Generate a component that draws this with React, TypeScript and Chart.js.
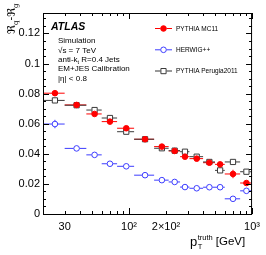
import React, { useEffect, useRef } from "react";
import { Chart, registerables } from "chart.js";
Chart.register(...registerables);

// ---- data ----
const binLow = [20, 30, 45, 60, 80, 110, 160, 210, 260, 310, 400, 500, 600, 800];
const binHigh = [30, 45, 60, 80, 110, 160, 210, 260, 310, 400, 500, 600, 800, 1000];
const binCenter = [25, 37.5, 52.5, 70, 95, 135, 185, 235, 285, 355, 450, 550, 700, 900];

const pythiaMC11 = [0.0803, 0.0725, 0.0665, 0.0614, 0.057, 0.0497, 0.0448, 0.0419, 0.0381, 0.0368, 0.0341, 0.033, 0.0266, 0.0206];
const pythiaMC11Err = [0.001, 0.0015, 0.001, 0.001, 0.001, 0.001, 0.001, 0.001, 0.0012, 0.001, 0.001, 0.0012, 0.0028, 0.0012];

const herwig = [0.0598, 0.0436, 0.0393, 0.0334, 0.0317, 0.0258, 0.0225, 0.0213, 0.0179, 0.0171, 0.0178, 0.0178, 0.0101, 0.0154];
const herwigErr = [0.0028, 0.002, 0.001, 0.001, 0.001, 0.001, 0.001, 0.001, 0.001, 0.001, 0.001, 0.001, 0.001, 0.001];

const perugia = [0.0755, 0.0723, 0.0691, 0.0638, 0.0547, 0.0497, 0.0437, 0.0421, 0.0414, 0.0381, 0.0346, 0.029, 0.0346, 0.0281];
const perugiaErr = [0.001, 0.001, 0.001, 0.001, 0.001, 0.001, 0.001, 0.001, 0.001, 0.001, 0.001, 0.0012, 0.0012, 0.0015];

const xTickValues = [30, 100, 200, 1000];
const xTickLabels = ["30", "10\u00B2", "2\u00D710\u00B2", "10\u00B3"];
const yTickValues = [0, 0.02, 0.04, 0.06, 0.08, 0.1, 0.12];
const yTickLabels = ["0", "0.02", "0.04", "0.06", "0.08", "0.1", "0.12"];

const seriesNames = ["PYTHIA MC11", "HERWIG++", "PYTHIA Perugia2011"];
const RED = "#ff0000";
const BLUE = "#3c3cff";
const DARK = "#3a3a3a";

const X_MIN = 20;
const X_MAX = 1000;
const Y_MIN = 0;
const Y_MAX = 0.1336;

const FONT = '"Liberation Sans", Arial, "DejaVu Sans", sans-serif';

function drawMarker(ctx: CanvasRenderingContext2D, style: string, x: number, y: number, color: string, filled: boolean) {
  ctx.save();
  ctx.lineWidth = 1;
  ctx.strokeStyle = color;
  ctx.fillStyle = color;
  ctx.beginPath();
  if (style === "rect") {
    ctx.rect(x - 2.6, y - 2.6, 5.2, 5.2);
  } else {
    ctx.arc(x, y, 2.8, 0, Math.PI * 2);
  }
  if (filled) ctx.fill();
  ctx.stroke();
  ctx.restore();
}

const atlasPlugin = {
  id: "atlasDecor",
  beforeDatasetsDraw(chart: any) {
    const ctx: CanvasRenderingContext2D = chart.ctx;
    const xs = chart.scales.x;
    const ys = chart.scales.y;
    const ca = chart.chartArea;
    ctx.save();
    ctx.beginPath();
    ctx.rect(ca.left, ca.top, ca.right - ca.left, ca.bottom - ca.top);
    ctx.clip();
    chart.data.datasets.forEach((ds: any) => {
      ctx.strokeStyle = ds.errColor;
      ctx.lineWidth = 1;
      const gap = ds.gap;
      ds.data.forEach((p: any, i: number) => {
        const px = xs.getPixelForValue(p.x);
        const py = ys.getPixelForValue(p.y);
        const xl = xs.getPixelForValue(ds.xLow[i]);
        const xh = xs.getPixelForValue(ds.xHigh[i]);
        const yt = ys.getPixelForValue(p.y + ds.yErr[i]);
        const yb = ys.getPixelForValue(p.y - ds.yErr[i]);
        ctx.beginPath();
        ctx.moveTo(xl, py);
        ctx.lineTo(px - gap, py);
        ctx.moveTo(px + gap, py);
        ctx.lineTo(xh, py);
        if (py - yt > gap) {
          ctx.moveTo(px, yt);
          ctx.lineTo(px, py - gap);
          ctx.moveTo(px, py + gap);
          ctx.lineTo(px, yb);
        }
        ctx.stroke();
      });
    });
    ctx.restore();
  },
  afterDraw(chart: any) {
    const ctx: CanvasRenderingContext2D = chart.ctx;
    const xs = chart.scales.x;
    const ys = chart.scales.y;
    const ca = chart.chartArea;
    ctx.save();
    // frame
    ctx.strokeStyle = "#000";
    ctx.lineWidth = 1;
    ctx.strokeRect(ca.left + 0.5, ca.top + 0.5, ca.right - ca.left - 1, ca.bottom - ca.top);
    // x ticks (log)
    ctx.beginPath();
    for (let dec = 10; dec <= 1000; dec *= 10) {
      for (let m = 1; m <= 9; m++) {
        const v = dec * m;
        if (v < X_MIN || v > X_MAX) continue;
        const px = Math.round(xs.getPixelForValue(v)) + 0.5;
        const len = m === 1 ? 6 : 3;
        ctx.moveTo(px, ca.bottom);
        ctx.lineTo(px, ca.bottom - len);
        ctx.moveTo(px, ca.top);
        ctx.lineTo(px, ca.top + len);
      }
    }
    // y ticks
    for (let k = 0; k * 0.005 <= Y_MAX + 1e-9; k++) {
      const v = k * 0.005;
      const py = Math.round(ys.getPixelForValue(v)) + 0.5;
      const len = k % 4 === 0 ? 6 : 3;
      ctx.moveTo(ca.left, py);
      ctx.lineTo(ca.left + len, py);
      ctx.moveTo(ca.right, py);
      ctx.lineTo(ca.right - len, py);
    }
    ctx.stroke();

    // ATLAS label block
    ctx.fillStyle = "#000";
    ctx.textBaseline = "middle";
    ctx.textAlign = "left";
    ctx.font = `italic bold 10.5px ${FONT}`;
    ctx.fillText("ATLAS", ca.left + 8, ca.top + 14);
    ctx.font = `8px ${FONT}`;
    const ix = ca.left + 15;
    ctx.fillText("Simulation", ix, ca.top + 28);
    ctx.fillText("\u221As = 7 TeV", ix, ca.top + 37.5);
    // anti-kt with subscript
    let tx = ix;
    ctx.fillText("anti-k", tx, ca.top + 47);
    tx += ctx.measureText("anti-k").width;
    ctx.font = `5.5px ${FONT}`;
    ctx.fillText("t", tx, ca.top + 49);
    tx += ctx.measureText("t").width;
    ctx.font = `8px ${FONT}`;
    ctx.fillText(" R=0.4 Jets", tx, ca.top + 47);
    ctx.fillText("EM+JES Calibration", ix, ca.top + 56);
    ctx.fillText("|\u03B7| < 0.8", ix, ca.top + 65.5);

    // legend
    const lx0 = ca.left + 112;
    const lx1 = ca.left + 129;
    const lmx = (lx0 + lx1) / 2;
    chart.data.datasets.forEach((ds: any, i: number) => {
      const ly = ca.top + 15.5 + i * 21.3;
      ctx.strokeStyle = ds.legendLine;
      ctx.lineWidth = ds.legendWidth;
      ctx.beginPath();
      ctx.moveTo(lx0, ly);
      ctx.lineTo(lmx - 3, ly);
      ctx.moveTo(lmx + 3, ly);
      ctx.lineTo(lx1, ly);
      ctx.stroke();
      drawMarker(ctx, ds.pointStyle, lmx, ly, ds.borderColor, ds.filled);
      ctx.fillStyle = "#000";
      ctx.font = `6.5px ${FONT}`;
      ctx.fillText(ds.label, ca.left + 133, ly + 0.5);
    });

    // x title: p_T^truth [GeV]
    ctx.textBaseline = "alphabetic";
    const by = 246;
    let px = 190;
    ctx.font = `13px ${FONT}`;
    ctx.fillText("p", px, by);
    const pw = ctx.measureText("p").width;
    px += pw + 0.5;
    ctx.font = `7.5px ${FONT}`;
    ctx.fillText("truth", px, by - 6);
    ctx.fillText("T", px, by + 3);
    px += ctx.measureText("truth").width + 3;
    ctx.font = `11.5px ${FONT}`;
    ctx.fillText("[GeV]", px, by - 1);

    // y title: R_q - R_g rotated
    ctx.translate(15, 34);
    ctx.rotate(-Math.PI / 2);
    let yx = 0;
    const parts: [string, number, number][] = [
      ["\u211C", 11, 0],
      ["q", 7, 2.5],
      ["-", 11, 0],
      ["\u211C", 11, 0],
      ["g", 7, 2.5],
    ];
    parts.forEach(([t, s, off]) => {
      ctx.font = `${s}px "DejaVu Serif", "DejaVu Sans", serif`;
      ctx.fillText(t, yx, off);
      yx += ctx.measureText(t).width;
    });
    ctx.restore();
  },
};

function makeDataset(label: string, values: number[], errs: number[], color: string, style: string, filled: boolean, legendLine: string, legendWidth: number) {
  return {
    label,
    data: binCenter.map((x, i) => ({ x, y: values[i] })),
    xLow: binLow,
    xHigh: binHigh,
    yErr: errs,
    errColor: color,
    gap: filled ? 0 : 3,
    filled,
    legendLine,
    legendWidth,
    pointStyle: style,
    pointRadius: style === "rect" ? 3.7 : 2.8,
    pointBorderWidth: 1,
    borderColor: color,
    pointBorderColor: color,
    backgroundColor: filled ? color : "rgba(0,0,0,0)",
    pointBackgroundColor: filled ? color : "rgba(0,0,0,0)",
    showLine: false,
  };
}

export default function App() {
  const ref = useRef<HTMLCanvasElement | null>(null);
  useEffect(() => {
    if (!ref.current) return;
    const chart = new Chart(ref.current, {
      type: "scatter",
      data: {
        datasets: [
          makeDataset(seriesNames[0], pythiaMC11, pythiaMC11Err, RED, "circle", true, RED, 1),
          makeDataset(seriesNames[1], herwig, herwigErr, BLUE, "circle", false, BLUE, 1),
          makeDataset(seriesNames[2], perugia, perugiaErr, DARK, "rect", false, "#999999", 2),
        ] as any,
      },
      options: {
        animation: false,
        responsive: false,
        devicePixelRatio: 1,
        layout: { padding: { top: 13, right: 13, left: 0, bottom: 0 } },
        plugins: { legend: { display: false }, tooltip: { enabled: false } },
        scales: {
          x: {
            type: "logarithmic",
            min: X_MIN,
            max: X_MAX,
            grid: { display: false, drawTicks: false },
            border: { display: false },
            afterFit: (s: any) => { s.height = 41; },
            afterBuildTicks: (s: any) => { s.ticks = xTickValues.map((v) => ({ value: v })); },
            ticks: {
              autoSkip: false,
              maxRotation: 0,
              padding: 6,
              color: "#000",
              font: { family: FONT, size: 11 },
              callback: (v: any) => {
                const i = xTickValues.indexOf(Number(v));
                return i >= 0 ? xTickLabels[i] : "";
              },
            },
          },
          y: {
            type: "linear",
            min: Y_MIN,
            max: Y_MAX,
            grid: { display: false, drawTicks: false },
            border: { display: false },
            afterFit: (s: any) => { s.width = 43; },
            afterBuildTicks: (s: any) => { s.ticks = yTickValues.map((v) => ({ value: v })); },
            ticks: {
              padding: 3,
              color: "#000",
              font: { family: FONT, size: 11 },
              callback: (v: any) => {
                const i = yTickValues.findIndex((t) => Math.abs(t - Number(v)) < 1e-9);
                return i >= 0 ? yTickLabels[i] : "";
              },
            },
          },
        },
      },
      plugins: [atlasPlugin],
    });
    return () => chart.destroy();
  }, []);
  return (
    <div style={{ position: "fixed", left: 0, top: 0, width: 266, height: 255, background: "#fff" }}>
      <canvas ref={ref} width={266} height={255} />
    </div>
  );
}
